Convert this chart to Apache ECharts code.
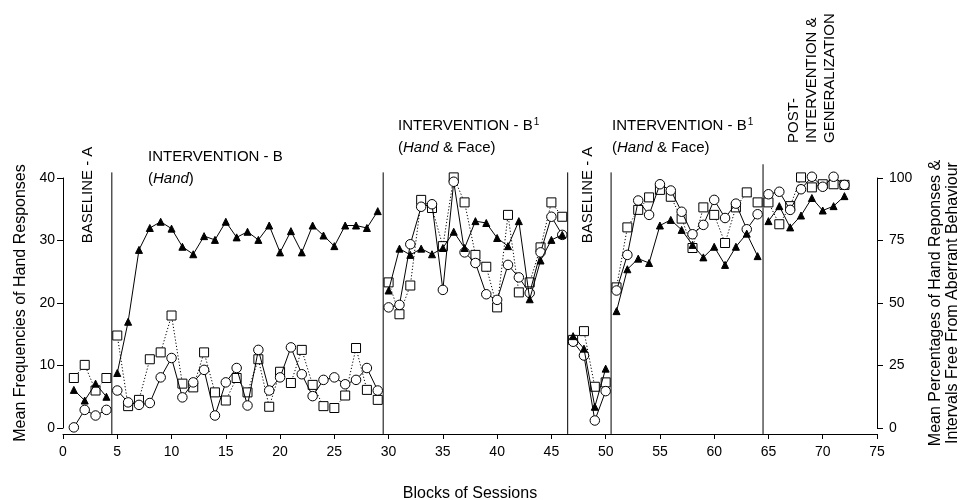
<!DOCTYPE html>
<html>
<head>
<meta charset="utf-8">
<script src="https://cdn.jsdelivr.net/npm/echarts@6/dist/echarts.min.js"></script>
<style>
  html, body { margin: 0; padding: 0; background: #fff; }
  #chart { width: 964px; height: 500px; }
</style>
</head>
<body>
<div id="chart"></div>
<script>
  // values, one per block of sessions (1..72), left-axis units
  var triangles = [6.1, 4.4, 7.1, 5.0,
    8.8, 17.0, 28.5, 32.0, 33.0, 31.9, 29.0, 27.8, 30.7, 30.1, 33.0, 30.5, 31.4, 30.1, 32.4, 28.1, 31.5, 28.1, 32.4, 30.8, 29.1, 32.4, 32.4, 32.0, 34.7,
    22.0, 28.7, 27.7, 28.7, 27.8, 28.8, 31.4, 28.8, 33.1, 32.8, 30.4, 29.1, 33.1, 20.6, 26.8, 30.1, 30.9,
    14.7, 12.7, 3.4, 9.5,
    18.7, 25.4, 27.1, 26.4, 32.4, 33.3, 31.7, 29.3, 27.3, 29.0, 26.1, 29.0, 31.1, 27.5,
    33.1, 35.5, 32.1, 34.0, 36.8, 34.8, 35.5, 37.1];
  var circles = [0.1, 2.9, 2.0, 2.9,
    6.0, 4.1, 3.7, 4.0, 8.1, 11.2, 4.9, 7.3, 9.3, 2.0, 7.3, 9.6, 3.6, 12.5, 6.0, 8.1, 12.9, 8.6, 5.1, 7.7, 8.1, 7.0, 7.7, 9.6, 6.0,
    19.3, 19.7, 29.4, 35.4, 35.8, 22.1, 39.4, 28.1, 26.4, 21.4, 20.5, 26.1, 24.1, 21.6, 28.1, 33.8, 30.9,
    13.8, 11.6, 1.2, 5.9,
    22.0, 27.7, 36.4, 34.1, 39.0, 38.0, 34.6, 31.0, 32.5, 36.5, 33.6, 35.9, 31.8, 34.2,
    37.4, 37.8, 34.9, 38.2, 40.2, 38.6, 40.2, 38.9];
  var squares = [8.0, 10.1, 6.0, 8.0,
    14.8, 3.5, 4.5, 11.0, 12.1, 18.0, 7.1, 6.5, 12.1, 5.7, 4.4, 8.0, 5.7, 11.0, 3.4, 9.0, 7.2, 12.5, 6.9, 3.5, 3.2, 5.2, 12.8, 6.1, 4.5,
    23.3, 18.2, 22.8, 36.5, 35.2, 29.1, 40.1, 36.1, 27.7, 25.8, 19.3, 34.1, 21.7, 23.3, 28.9, 36.1, 33.8,
    14.1, 15.5, 6.6, 7.3,
    22.5, 32.1, 34.9, 36.9, 38.1, 37.0, 33.5, 28.8, 35.3, 34.1, 29.6, 35.3, 37.7, 36.1,
    36.1, 32.6, 35.5, 40.1, 38.5, 39.0, 39.0, 38.9];

  // first session of each phase, and where the phase-change lines sit
  var phaseStarts = [1, 5, 30, 47, 51, 65];
  var phaseLines = [4.5, 29.5, 46.5, 50.5, 64.5];
  var phaseLineTops = [40.9, 40.9, 40.9, 40.9, 42.2];
  var lastSession = 72;

  var leftTicks = [0, 10, 20, 30, 40];
  var rightTicks = [0, 25, 50, 75, 100];

  var FONT = '"Liberation Sans", Arial, Helvetica, sans-serif';

  function phaseSeries(values, opts) {
    var out = [];
    for (var p = 0; p < phaseStarts.length; p++) {
      var s = phaseStarts[p];
      var e = p + 1 < phaseStarts.length ? phaseStarts[p + 1] - 1 : lastSession;
      var data = [];
      for (var n = s; n <= e; n++) data.push([n, values[n - 1]]);
      out.push({
        type: 'line',
        data: data,
        symbol: opts.symbol,
        symbolSize: opts.size,
        showAllSymbol: true,
        clip: false,
        z: opts.z,
        lineStyle: { color: '#000', width: 1, type: opts.lineType },
        itemStyle: { color: opts.fill, borderColor: '#000', borderWidth: 1 },
        emphasis: { disabled: true }
      });
    }
    return out;
  }

  var series = [];
  // phase change lines, drawn through the axes down to the offset x axis
  for (var i = 0; i < phaseLines.length; i++) {
    series.push({
      type: 'line',
      data: [[phaseLines[i], phaseLineTops[i]], [phaseLines[i], -0.95]],
      symbol: 'none',
      clip: false,
      silent: true,
      z: 1,
      lineStyle: { color: '#000', width: 1 }
    });
  }
  series = series.concat(phaseSeries(squares, { symbol: 'rect', size: 9, lineType: [1.2, 2], fill: '#fff', z: 3 }));
  series = series.concat(phaseSeries(circles, { symbol: 'circle', size: 9.5, lineType: 'solid', fill: '#fff', z: 4 }));
  series = series.concat(phaseSeries(triangles, { symbol: 'triangle', size: 7, lineType: 'solid', fill: '#000', z: 5 }));

  var textStyleBase = { fontFamily: FONT, fill: '#000' };

  function txt(x, y, text, extra) {
    var style = Object.assign({ text: text, x: 0, y: 0, fontSize: 15 }, textStyleBase, extra.style || {});
    return { type: 'text', x: x, y: y, rotation: extra.rotation || 0, silent: true, style: style };
  }

  var richPhase = {
    sup: { fontSize: 10, fontFamily: FONT, verticalAlign: 'top', lineHeight: 10, padding: [0, 0, 0, 1] },
    i: { fontStyle: 'italic', fontSize: 15, fontFamily: FONT }
  };

  var option = {
    animation: false,
    backgroundColor: '#fff',
    grid: { left: 63, right: 87, top: 178, bottom: 72 },
    xAxis: {
      type: 'value',
      min: 0, max: 75, interval: 5,
      offset: 6,
      axisLine: { onZero: false, lineStyle: { color: '#000', width: 1 } },
      axisTick: { length: 5, lineStyle: { color: '#000' } },
      axisLabel: { color: '#000', fontSize: 14, fontFamily: FONT, margin: 11 },
      splitLine: { show: false }
    },
    yAxis: [{
      type: 'value',
      min: leftTicks[0], max: leftTicks[leftTicks.length - 1], interval: 10,
      position: 'left',
      axisLine: { show: true, lineStyle: { color: '#000', width: 1 } },
      axisTick: { show: true, length: 6, lineStyle: { color: '#000' } },
      axisLabel: { color: '#000', fontSize: 14, fontFamily: FONT, margin: 8 },
      splitLine: { show: false }
    }, {
      type: 'value',
      min: rightTicks[0], max: rightTicks[rightTicks.length - 1], interval: 25,
      position: 'right',
      axisLine: { show: true, lineStyle: { color: '#000', width: 1 } },
      axisTick: { show: true, length: 6, lineStyle: { color: '#000' } },
      axisLabel: { color: '#000', fontSize: 14, fontFamily: FONT, margin: 12 },
      splitLine: { show: false }
    }],
    series: series,
    graphic: [
      // axis titles
      txt(21, 303, 'Mean Frequencies of Hand Responses', { rotation: Math.PI / 2, style: { fontSize: 16, align: 'center', verticalAlign: 'middle' } }),
      txt(944, 303, 'Mean Percentages of Hand Reponses &\nIntervals Free From Aberrant Behaviour', { rotation: Math.PI / 2, style: { fontSize: 16, lineHeight: 17, align: 'center', verticalAlign: 'middle' } }),
      txt(470, 494, 'Blocks of Sessions', { style: { fontSize: 16, align: 'center', verticalAlign: 'middle' } }),
      // phase labels
      txt(87.5, 195, 'BASELINE - A', { rotation: Math.PI / 2, style: { align: 'center', verticalAlign: 'middle' } }),
      txt(148, 157, 'INTERVENTION - B', { style: { align: 'left', verticalAlign: 'middle' } }),
      txt(148, 179, '({i|Hand})', { style: { align: 'left', verticalAlign: 'middle', rich: richPhase } }),
      txt(398, 126, 'INTERVENTION - B{sup|1}', { style: { align: 'left', verticalAlign: 'middle', lineHeight: 18, rich: richPhase } }),
      txt(398, 148, '({i|Hand} & Face)', { style: { align: 'left', verticalAlign: 'middle', rich: richPhase } }),
      txt(588, 195, 'BASELINE - A', { rotation: Math.PI / 2, style: { align: 'center', verticalAlign: 'middle' } }),
      txt(612, 126, 'INTERVENTION - B{sup|1}', { style: { align: 'left', verticalAlign: 'middle', lineHeight: 18, rich: richPhase } }),
      txt(612, 148, '({i|Hand} & Face)', { style: { align: 'left', verticalAlign: 'middle', rich: richPhase } }),
      txt(785, 143, 'POST-\nINTERVENTION &\nGENERALIZATION', { rotation: Math.PI / 2, style: { lineHeight: 18, align: 'left', verticalAlign: 'top' } })
    ]
  };

  var myChart = echarts.init(document.getElementById('chart'), null, { renderer: 'canvas' });
  myChart.setOption(option);
</script>
</body>
</html>
